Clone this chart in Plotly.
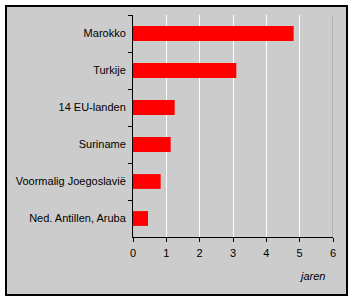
import plotly.graph_objects as go

categories = ["Marokko", "Turkije", "14 EU-landen", "Suriname", "Voormalig Joegoslavië", "Ned. Antillen, Aruba"]
values = [4.82, 3.1, 1.25, 1.13, 0.83, 0.45]
x_ticks = [0, 1, 2, 3, 4, 5, 6]
x_title = "jaren"

fig = go.Figure()
fig.add_trace(go.Bar(
    y=categories, x=values, orientation="h",
    marker=dict(color="#FF0000", line=dict(width=0)),
    width=0.4,
))

L, R, T, B = 133, 21, 15, 64
W, H = 354, 301
pw, ph = W - L - R, H - T - B

def px_x(p):
    return (p - L) / pw

def px_y(p):
    return (H - B - p) / ph

fig.add_shape(type="rect", xref="paper", yref="paper",
              x0=px_x(6), x1=px_x(347), y0=px_y(295), y1=px_y(6),
              line=dict(color="black", width=2), fillcolor="#CCCCCC", layer="below")
fig.add_shape(type="line", xref="x", yref="paper", x0=6, x1=6, y0=0, y1=1,
              line=dict(color="#999999", width=1))
fig.add_annotation(text=x_title, xref="paper", yref="paper",
                   x=px_x(327), y=px_y(276), xanchor="right", yanchor="middle",
                   showarrow=False, font=dict(size=11, color="black", family="Liberation Sans, Arial"),
                   textangle=0)
fig.update_annotations(font_style="italic")

fig.update_layout(
    width=W, height=H,
    margin=dict(l=L, r=R, t=T, b=B, pad=0),
    paper_bgcolor="white", plot_bgcolor="#CCCCCC",
    showlegend=False,
    font=dict(family="Liberation Sans, Arial", size=11, color="black"),
    bargap=0.6,
)
fig.update_xaxes(range=[0, 6], tickvals=x_ticks, showgrid=True, gridcolor="white", gridwidth=1,
                 showline=True, linecolor="black", linewidth=1, ticks="outside", ticklen=4,
                 tickcolor="black", zeroline=False, fixedrange=True, ticklabelstandoff=2)
fig.update_yaxes(categoryorder="array", categoryarray=categories, autorange="reversed",
                 showline=True, linecolor="black", linewidth=1, ticks="outside", ticklen=4,
                 tickcolor="black", tickson="boundaries", showgrid=False, fixedrange=True,
                 ticklabelstandoff=4)

fig.write_html("out.html")
